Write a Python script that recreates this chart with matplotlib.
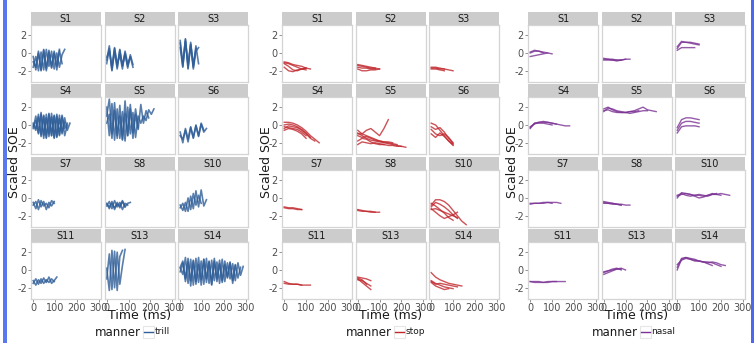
import numpy as np
import matplotlib
matplotlib.use("Agg")
import matplotlib.pyplot as plt
from matplotlib.patches import Rectangle
from matplotlib.lines import Line2D

W, H = 755, 343

speakers = ["S1", "S2", "S3", "S4", "S5", "S6", "S7", "S8", "S10", "S11", "S13", "S14"]
manners = ["trill", "stop", "nasal"]
colors = {"trill": "#2f5e98", "stop": "#c0272d", "nasal": "#7b3294"}
# sampling step (ms) of the traced trajectories
step_ms = {"trill": 12, "stop": 20, "nasal": 20}
x_ticks = [0, 100, 200, 300]
y_ticks = [-2, 0, 2]

trill_y = {
    "S1": [[-0.4, -1.9, 0.2, -2.0, 0.4, -1.8, 0.3, -1.7, 0.2, -1.5, 0.3, -1.2],
           [-1.0, -1.6, 0.0, -1.9, 0.3, -2.0, 0.1, -1.6, 0.0, -1.9, 0.4],
           [-1.6, -0.4, -2.0, 0.1, -1.9, 0.4, -1.5, 0.2, -1.8, 0.0, -1.6, -0.2, 0.4]],
    "S2": [[-0.8, 0.8, -1.9, 0.5, -1.6, 0.4, -1.5, 0.0, -1.7, -0.2, -1.3],
           [-1.2, 0.5, -2.0, 0.2, -1.8, 0.3, -1.4, -0.1, -1.5, -0.4, -1.6],
           [-0.5, 0.2, -1.6, 0.6, -1.3, -0.2, -1.8, 0.2, -1.2, -0.5]],
    "S3": [[1.4, -1.5, 1.6, -1.7, 1.2, -1.6, 0.8, -1.2],
           [1.1, -1.2, 1.5, -1.8, 1.0, -1.4, 0.5],
           [0.6, -1.6, 1.3, -1.3, 0.9, -1.8, 0.2, 0.6]],
    "S4": [[0.0, -0.6, 1.2, -1.3, 1.1, -1.4, 1.2, -1.2, 1.0, -1.3, 1.1, -1.0, 0.8, -0.6, 0.2],
           [-0.2, 0.5, -1.0, 1.4, -1.5, 1.2, -1.3, 0.9, -1.4, 1.2, -1.1, 0.9, -1.2, 0.0],
           [0.2, -0.4, 0.9, -1.1, 1.0, -1.5, 1.3, -1.2, 1.1, -1.4, 0.7, -0.8, 0.3],
           [-0.4, 1.0, -0.9, 1.2, -1.2, 0.8, -1.0, 1.3, -1.5, 1.0, -1.2, 1.1, -0.4, 0.2]],
    "S5": [[1.0, 2.9, -1.0, 2.5, -1.5, 2.2, -1.7, 2.7, -1.2, 1.8, -1.5, 1.2, -0.5, 2.3, 0.2, 1.6, 0.8],
           [2.0, -1.2, 2.4, -1.7, 1.8, -1.5, 1.5, -1.8, 2.0, -1.0, 1.4, -1.4, 1.0, 0.2, 1.0, 0.5, 1.7, 1.2, 1.8],
           [0.2, 1.2, -1.5, 1.6, -1.2, 1.0, -1.6, 1.3, -1.2, 2.3, -0.9, 1.8, -0.3]],
    "S6": [[-0.8, -2.0, -0.4, -1.6, -0.2, -1.5, 0.0, -1.2, 0.1, -0.8, -0.4],
           [-1.2, -1.6, -0.6, -1.9, -0.3, -1.4, -0.1, -1.3, 0.2, -0.6]],
    "S7": [[-0.5, -1.2, -0.2, -1.0, -0.4, -1.3, -0.5, -0.9, -0.4],
           [-0.8, -0.4, -1.3, -0.3, -0.9, -0.6, -1.1, -0.3, -0.6]],
    "S8": [[-0.6, -1.2, -0.4, -1.3, -0.5, -1.1, -0.4, -1.0, -0.6, -0.5],
           [-0.9, -0.4, -1.2, -0.3, -1.0, -0.5, -1.3, -0.6, -0.8],
           [-0.7, -1.0, -0.6, -1.1, -0.7, -0.9, -0.3, -1.0]],
    "S10": [[-0.8, -1.4, -0.5, -1.5, 0.2, -1.2, 0.8, -1.0, 0.9, -0.9, -0.2],
            [-1.1, -0.6, -1.5, 0.0, -1.3, 0.5, -0.8, 0.3, -0.6]],
    "S11": [[-1.2, -1.7, -1.1, -1.5, -0.9, -1.4, -0.8, -1.5, -1.2, -0.8],
            [-1.5, -1.0, -1.6, -1.0, -1.5, -1.1, -1.4, -1.0, -1.3]],
    "S13": [[0.2, -2.3, 2.2, -2.0, 2.0, -1.6, 0.5, 2.3],
            [-1.0, 1.8, -2.2, 2.1, -2.3, 1.5, 2.2]],
    "S14": [[0.2, -0.5, 1.4, -1.5, 1.2, -1.7, 1.3, -1.4, 1.0, -1.6, 1.3, -1.5, 1.1, -1.2, 0.9, -1.5,
             1.2, -1.3, 0.8, -1.0, 0.7, -1.2, 0.8, -0.6, 0.4],
            [0.3, 1.0, -1.0, 1.3, -1.8, 1.0, -1.3, 1.4, -1.7, 1.2, -1.0, 1.0, -1.6, 1.3, -1.3, 0.7,
             -1.2, 1.0, -0.8, 0.9, -1.5, 0.5],
            [-0.2, 0.8, -1.3, 0.9, -1.2, 1.1, -1.6, 0.6, -1.1, 1.2, -1.4, 0.9, -1.7, 1.0, -1.0, 1.1,
             -1.4, 0.6, -0.9, 0.8, -1.2, 0.6, -0.9, 0.3]],
}

stop_y = {
    "S1": [[-1.0, -1.1, -1.3, -1.4, -1.5, -1.7, -1.8],
           [-1.2, -1.5, -1.9, -2.0, -1.8, -1.7],
           [-1.6, -2.0, -2.1, -1.9, -1.8, -1.7],
           [-1.1, -1.2, -1.4, -1.6, -1.8, -1.9]],
    "S2": [[-1.4, -1.5, -1.6, -1.7, -1.7, -1.8],
           [-1.3, -1.4, -1.5, -1.6, -1.7],
           [-1.8, -2.0, -2.0, -1.9, -1.9, -1.8],
           [-1.6, -1.7, -1.7, -1.8, -1.8]],
    "S3": [[-1.6, -1.6, -1.7, -1.8, -1.9, -2.0],
           [-1.7, -1.7, -1.8, -1.8],
           [-1.8, -1.8, -1.9, -2.0]],
    "S4": [[0.3, 0.3, 0.2, 0.0, -0.3, -0.7, -1.2, -1.6, -2.0],
           [0.0, 0.1, 0.0, -0.2, -0.5, -0.9, -1.4],
           [-0.2, -0.3, -0.4, -0.5, -0.8, -1.2],
           [-0.6, -0.4, -0.5, -0.7, -1.0, -1.5],
           [-0.4, -0.1, -0.2, -0.3, -0.6, -1.0, -1.5, -1.8]],
    "S5": [[-0.9, -1.2, -1.5, -1.7, -1.8, -1.9, -2.0, -2.1, -2.2, -2.3, -2.4, -2.5],
           [-1.0, -1.0, -1.2, -1.4, -1.6, -1.8, -1.9, -2.0, -2.1, -2.2],
           [-1.8, -1.5, -1.6, -1.9, -2.1, -2.2, -2.2],
           [-2.2, -1.9, -2.0, -2.1, -2.0, -2.1, -2.2, -2.3, -2.3, -2.4, -2.4],
           [-0.6, -1.0, -0.6, -0.4, -0.8, -1.2, -0.4, 0.6],
           [-1.2, -1.4, -1.3, -1.5, -1.7, -1.8, -1.9, -1.9, -2.0]],
    "S6": [[0.2, 0.0, -0.6, -1.2, -1.8, -2.3],
           [-0.2, -0.5, -0.3, -0.8, -1.5, -2.1],
           [-1.0, -1.4, -0.9, -1.3, -1.8, -2.2],
           [-0.5, -1.0, -1.2, -1.0, -1.4, -2.0]],
    "S7": [[-1.0, -1.1, -1.1, -1.2, -1.3],
           [-1.1, -1.2, -1.2, -1.3, -1.3]],
    "S8": [[-1.3, -1.4, -1.5, -1.5, -1.6, -1.6],
           [-1.4, -1.5, -1.5, -1.6, -1.6]],
    "S10": [[-0.8, -0.2, -0.2, -0.4, -0.8, -1.4, -2.0, -2.6, -3.0],
            [-1.0, -0.5, -0.7, -1.0, -1.4, -1.9, -2.3],
            [-1.3, -1.2, -1.4, -1.6, -1.8, -2.0, -2.2],
            [-1.2, -1.6, -2.0, -2.3, -2.1, -1.9, -1.6],
            [-0.6, -0.9, -1.3, -1.7, -2.2, -2.5]],
    "S11": [[-1.3, -1.5, -1.6, -1.6, -1.7, -1.7, -1.7],
            [-1.5, -1.6, -1.6, -1.6, -1.7]],
    "S13": [[-0.8, -0.9, -1.0, -1.2],
            [-1.0, -1.4, -1.8, -2.2],
            [-1.1, -1.2, -1.5, -1.8],
            [-0.9, -1.1, -1.6]],
    "S14": [[-0.3, -0.8, -1.1, -1.3, -1.5, -1.6, -1.7, -1.8],
            [-1.2, -1.5, -1.7, -1.9, -2.0, -2.1],
            [-1.3, -1.6, -1.5, -1.6, -1.7, -1.8, -1.9],
            [-1.4, -1.8, -2.0, -2.2, -2.1]],
}

nasal_y = {
    "S1": [[0.0, 0.2, 0.2, 0.1, 0.0, -0.1],
           [0.1, 0.3, 0.2, 0.0],
           [-0.4, -0.3, -0.2, -0.1, 0.0]],
    "S2": [[-0.7, -0.7, -0.8, -0.8, -0.8, -0.7, -0.7],
           [-0.6, -0.7, -0.7, -0.8, -0.8, -0.7],
           [-0.8, -0.8, -0.8, -0.9, -0.8]],
    "S3": [[0.5, 1.2, 1.2, 1.2, 1.1, 1.0],
           [0.3, 0.6, 0.6, 0.6, 0.6],
           [0.7, 1.3, 1.2, 1.1, 1.0, 0.9]],
    "S4": [[-0.4, 0.2, 0.3, 0.3, 0.3, 0.2, 0.1, 0.0, -0.1, -0.1],
           [-0.2, 0.1, 0.3, 0.4, 0.3, 0.2, 0.1],
           [-0.3, 0.2, 0.2, 0.2, 0.1, 0.0]],
    "S5": [[1.8, 2.0, 1.7, 1.5, 1.4, 1.4, 1.5, 1.6, 1.8, 2.0, 1.7, 1.6, 1.5],
           [1.5, 1.9, 1.8, 1.6, 1.5, 1.4, 1.3, 1.4, 1.5, 1.6, 1.6],
           [1.6, 1.7, 1.5, 1.4, 1.4, 1.4, 1.5, 1.5, 1.6]],
    "S6": [[-0.3, 0.6, 0.8, 0.8, 0.7, 0.6],
           [-0.6, 0.2, 0.4, 0.4, 0.3, 0.2],
           [-0.9, -0.2, -0.1, -0.1, -0.1, -0.2]],
    "S7": [[-0.7, -0.6, -0.6, -0.6, -0.5, -0.5, -0.5, -0.6],
           [-0.6, -0.6, -0.6, -0.5, -0.5, -0.6]],
    "S8": [[-0.4, -0.5, -0.6, -0.7, -0.7, -0.8, -0.8],
           [-0.6, -0.6, -0.7, -0.7, -0.8],
           [-0.5, -0.6, -0.6, -0.7, -0.8]],
    "S10": [[0.0, 0.6, 0.5, 0.4, 0.3, 0.3, 0.2, 0.3, 0.4, 0.4, 0.5, 0.4, 0.3],
            [0.2, 0.4, 0.5, 0.4, 0.2, 0.0, 0.1, 0.3, 0.5, 0.4, 0.3],
            [0.3, 0.5, 0.3, 0.2, 0.3, 0.4, 0.3, 0.2, 0.4, 0.5]],
    "S11": [[-1.3, -1.3, -1.3, -1.4, -1.4, -1.3, -1.3, -1.3, -1.3],
            [-1.3, -1.4, -1.4, -1.4, -1.3, -1.3, -1.3]],
    "S13": [[-0.2, -0.1, 0.0, 0.1, 0.2, 0.0],
            [-0.5, -0.3, -0.1, 0.1, 0.1],
            [-0.3, -0.1, 0.1, 0.2, 0.0]],
    "S14": [[0.0, 1.2, 1.4, 1.2, 1.1, 1.0, 0.9, 0.9, 0.8, 0.6, 0.4],
            [0.3, 1.3, 1.4, 1.3, 1.2, 1.0, 0.9, 0.7, 0.5],
            [0.6, 1.1, 1.3, 1.2, 1.0, 1.0, 0.9, 0.8, 0.9, 0.8, 0.6, 0.5]],
}

data = {"trill": trill_y, "stop": stop_y, "nasal": nasal_y}

# pixel layout of the three facet grids
group_left = {"trill": 31, "stop": 282, "nasal": 528}
panel_w = 70
col_pitch = 73.5
panel_tops = [25, 97, 170, 242]
panel_h = 57
strip_h = 13

text_col = "#4d4d4d"
fig = plt.figure(figsize=(W / 100, H / 100), dpi=100)
fig.patch.set_facecolor("white")


def px_axes(x, y, w, h):
    return fig.add_axes([x / W, 1 - (y + h) / H, w / W, h / H])


for manner in manners:
    gl = group_left[manner]
    lw = 1.2 if manner == "trill" else 1.0
    for k, spk in enumerate(speakers):
        r, c = divmod(k, 3)
        x0 = gl + c * col_pitch
        y0 = panel_tops[r]
        ax = px_axes(x0, y0, panel_w, panel_h)
        for yv in data[manner][spk]:
            t = np.arange(len(yv)) * step_ms[manner]
            ax.plot(t, yv, color=colors[manner], lw=lw, alpha=0.8)
        ax.set_xlim(-10, 310)
        ax.set_ylim(-3.26, 3.14)
        for s in ax.spines.values():
            s.set_color("#d4d4d4")
            s.set_linewidth(0.9)
        ax.set_xticks(x_ticks)
        ax.set_yticks(y_ticks)
        ax.tick_params(length=2, width=0.6, color="#7f7f7f", labelsize=7,
                       labelcolor=text_col, pad=1)
        if c != 0:
            ax.set_yticklabels([])
            ax.tick_params(axis="y", length=0)
        else:
            ax.set_yticklabels([str(v) for v in y_ticks])
        if r != 3:
            ax.set_xticklabels([])
            ax.tick_params(axis="x", length=0)
        # strip
        sax = px_axes(x0, y0 - strip_h, panel_w, strip_h)
        sax.set_facecolor("#cccccc")
        sax.set_xticks([])
        sax.set_yticks([])
        for s in sax.spines.values():
            s.set_visible(False)
        sax.text(0.5, 0.45, spk, ha="center", va="center", fontsize=7, color="#1a1a1a",
                 transform=sax.transAxes)

    cx = gl + (2 * col_pitch + panel_w) / 2
    fig.text(cx / W, 1 - 316 / H, "Time (ms)", ha="center", va="center", fontsize=9, color="#1a1a1a")
    fig.text((gl - 16) / W, 1 - 162 / H, "Scaled SOE", ha="center", va="center", rotation=90,
             fontsize=9, color="#1a1a1a")
    # legend
    fig.text((cx + 1) / W, 1 - 332 / H, "manner", ha="right", va="center", fontsize=8.5, color="#1a1a1a")
    fig.add_artist(Rectangle(((cx + 3) / W, 1 - 338 / H), 11 / W, 12 / H, transform=fig.transFigure,
                             facecolor="white", edgecolor="#e6e6e6", lw=0.8))
    fig.add_artist(Line2D([(cx + 4) / W, (cx + 13) / W], [1 - 332 / H, 1 - 332 / H],
                          transform=fig.transFigure, color=colors[manner], lw=1))
    fig.text((cx + 15) / W, 1 - 332 / H, manner, ha="left", va="center", fontsize=6.5, color="#1a1a1a")

# blue screen borders
fig.add_artist(Rectangle((3 / W, 0), 4 / W, 1, transform=fig.transFigure, facecolor="#5a78f0",
                         edgecolor="none"))
fig.add_artist(Rectangle((751 / W, 0), 3 / W, 1, transform=fig.transFigure, facecolor="#4a68f0",
                         edgecolor="none"))

fig.savefig("out.png", dpi=100)
